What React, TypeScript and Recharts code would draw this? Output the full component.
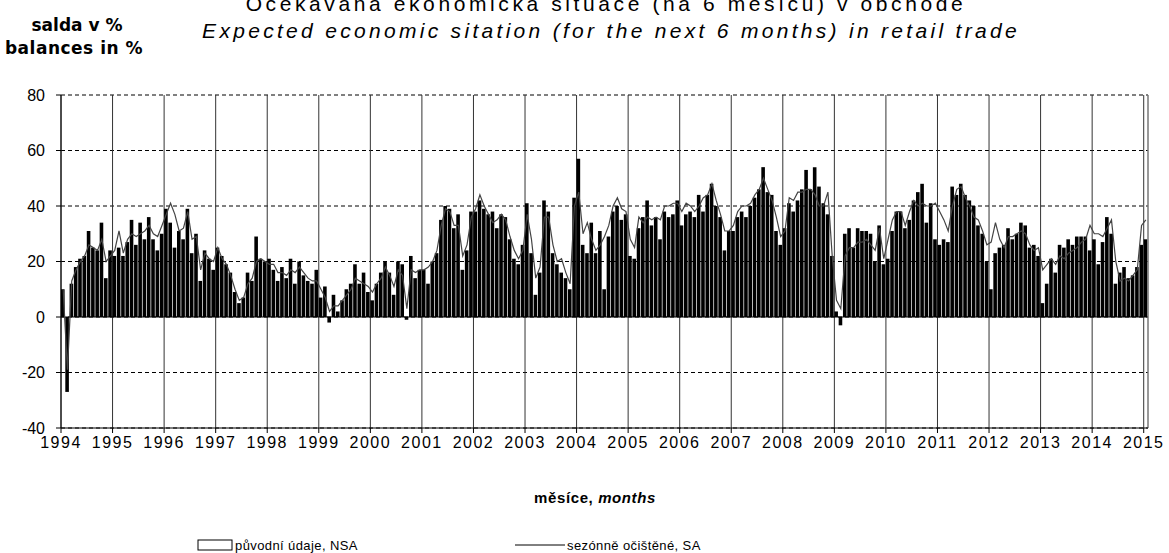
import React from "react";
import {
  ComposedChart,
  Bar,
  Line,
  XAxis,
  YAxis,
  CartesianGrid,
  ReferenceLine,
} from "recharts";

// year labels on the x axis (one tick per January)
const years = [
  1994, 1995, 1996, 1997, 1998, 1999, 2000, 2001, 2002, 2003, 2004,
  2005, 2006, 2007, 2008, 2009, 2010, 2011, 2012, 2013, 2014, 2015,
];

const yTicks = [-40, -20, 0, 20, 40, 60, 80];

// původní údaje, NSA (monthly, Jan 1994 .. Jan 2015)
const nsa = [
  10, -27, 12, 18, 21, 22, 31, 25, 24, 34, 14, 24, // 1994
  22, 25, 22, 27, 35, 26, 34, 28, 36, 28, 24, 30, // 1995
  39, 34, 25, 31, 28, 39, 23, 30, 13, 24, 21, 17, // 1996
  25, 22, 19, 16, 9, 5, 7, 16, 13, 29, 21, 20, // 1997
  21, 17, 13, 18, 14, 21, 12, 20, 15, 13, 12, 17, // 1998
  7, 11, -2, 8, 2, 6, 10, 12, 19, 12, 16, 9, // 1999
  6, 12, 16, 20, 16, 8, 20, 19, -1, 22, 14, 17, // 2000
  17, 12, 20, 23, 35, 40, 39, 32, 37, 17, 24, 38, // 2001
  38, 42, 39, 37, 38, 32, 37, 36, 28, 21, 19, 26, // 2002
  41, 23, 8, 16, 42, 38, 23, 19, 16, 14, 10, 43, // 2003
  57, 26, 23, 34, 23, 31, 10, 29, 38, 40, 35, 37, // 2004
  22, 21, 32, 36, 42, 33, 36, 28, 38, 36, 37, 42, // 2005
  33, 37, 38, 36, 44, 38, 44, 48, 40, 36, 24, 31, // 2006
  31, 36, 38, 36, 40, 43, 46, 54, 45, 44, 31, 26, // 2007
  32, 41, 38, 42, 46, 53, 46, 54, 47, 41, 37, 22, // 2008
  2, -3, 30, 32, 25, 32, 31, 31, 30, 20, 33, 19, // 2009
  21, 31, 38, 38, 32, 35, 42, 45, 48, 34, 41, 28, // 2010
  26, 28, 27, 47, 44, 48, 44, 42, 40, 33, 30, 20, // 2011
  10, 23, 25, 26, 32, 28, 30, 34, 33, 25, 26, 22, // 2012
  5, 12, 21, 16, 26, 25, 28, 26, 29, 29, 29, 24, // 2013
  28, 19, 27, 36, 30, 12, 16, 18, 14, 15, 18, 26, // 2014
  28, // 2015
];

// sezónně očištěné, SA
const sa = [
  10, -19, 13, 17, 20, 22, 26, 25, 24, 28, 20, 22, // 1994
  24, 31, 23, 28, 30, 29, 30, 31, 33, 30, 29, 33, // 1995
  37, 41, 37, 31, 32, 38, 28, 29, 17, 23, 21, 20, // 1996
  25, 21, 19, 15, 10, 6, 7, 12, 14, 20, 21, 20, // 1997
  19, 19, 16, 16, 15, 17, 16, 18, 16, 14, 13, 13, // 1998
  10, 7, 2, 4, 4, 6, 8, 10, 14, 13, 12, 11, // 1999
  9, 12, 14, 18, 15, 11, 17, 15, 3, 17, 16, 17, // 2000
  17, 18, 20, 24, 33, 39, 38, 33, 33, 22, 26, 36, // 2001
  39, 44, 40, 37, 34, 35, 37, 35, 29, 24, 21, 24, // 2002
  37, 28, 14, 18, 36, 36, 26, 20, 21, 16, 12, 40, // 2003
  45, 30, 34, 28, 24, 26, 29, 33, 40, 43, 39, 38, // 2004
  28, 25, 36, 34, 36, 35, 36, 35, 40, 40, 41, 41, // 2005
  38, 41, 40, 38, 40, 43, 44, 48, 42, 37, 31, 31, // 2006
  33, 38, 40, 40, 41, 44, 46, 50, 46, 42, 36, 29, // 2007
  31, 43, 42, 45, 45, 46, 46, 44, 40, 40, 45, 22, // 2008
  6, 3, 22, 25, 25, 27, 27, 28, 26, 24, 32, 21, // 2009
  28, 35, 38, 38, 33, 38, 42, 40, 41, 40, 40, 41, // 2010
  38, 35, 31, 40, 46, 47, 43, 40, 36, 35, 31, 26, // 2011
  27, 34, 28, 25, 29, 29, 30, 31, 30, 26, 24, 25, // 2012
  17, 19, 21, 19, 22, 21, 23, 24, 25, 27, 28, 33, // 2013
  30, 30, 29, 32, 35, 20, 13, 14, 13, 15, 17, 33, // 2014
  35, // 2015
];

const months = nsa.length;
const data = nsa.map((v, i) => ({
  x: i + 0.5,
  month: `${years[0] + Math.floor(i / 12)}-${String((i % 12) + 1).padStart(2, "0")}`,
  nsa: v,
  sa: sa[i],
}));
const xTicks = years.map((_, i) => i * 12);

const FONT = "'Liberation Sans', Arial, sans-serif";

export default function App() {
  return (
    <div
      style={{
        position: "absolute",
        left: 0,
        top: 0,
        width: 1169,
        height: 553,
        background: "#fff",
        overflow: "hidden",
        fontFamily: FONT,
      }}
    >
      <ComposedChart
        width={1169}
        height={553}
        data={data}
        margin={{ top: 95, right: 21, bottom: 95, left: 11 }}
      >
        <CartesianGrid
          vertical={false}
          stroke="#000"
          strokeDasharray="4 3"
        />
        <CartesianGrid horizontal={false} stroke="#333" />
        <XAxis
          type="number"
          dataKey="x"
          domain={[0, months]}
          ticks={xTicks}
          interval={0}
          tickFormatter={(v: number) => String(years[0] + v / 12)}
          tick={{ fill: "#000", fontSize: 16, fontFamily: FONT, letterSpacing: 1.5 }}
          axisLine={{ stroke: "#000" }}
          tickLine={{ stroke: "#000" }}
          tickSize={5}
          tickMargin={4}
          height={30}
        />
        <YAxis
          domain={[-40, 80]}
          ticks={yTicks}
          interval={0}
          tick={{ fill: "#000", fontSize: 16, fontFamily: FONT }}
          axisLine={{ stroke: "#000" }}
          tickLine={{ stroke: "#000" }}
          tickSize={5}
          tickMargin={11}
          width={50}
        />
        <ReferenceLine y={0} stroke="#000" />
        <ReferenceLine x={months} stroke="#999" />
        <Bar
          dataKey="nsa"
          name="původní údaje, NSA"
          fill="#000"
          barSize={3.6}
          isAnimationActive={false}
        />
        <Line
          dataKey="sa"
          name="sezónně očištěné, SA"
          type="linear"
          stroke="#444"
          strokeWidth={1.2}
          dot={false}
          isAnimationActive={false}
        />
      </ComposedChart>

      <svg
        width={1169}
        height={553}
        style={{ position: "absolute", left: 0, top: 0, pointerEvents: "none" }}
        fontFamily={FONT}
      >
        <text x={606} y={11} textAnchor="middle" fontSize={21} letterSpacing={3.6} fill="#000">
          Očekávaná ekonomická situace (na 6 měsíců) v obchodě
        </text>
        <text
          x={611}
          y={38}
          textAnchor="middle"
          fontSize={21}
          fontStyle="italic"
          letterSpacing={3.3}
          fill="#000"
        >
          Expected economic sitation (for the next 6 months) in retail trade
        </text>
        <text x={77} y={31} textAnchor="middle" fontSize={17} fontWeight="bold" fontFamily="'DejaVu Sans', sans-serif" fill="#000">
          salda v %
        </text>
        <text x={74} y={54} textAnchor="middle" fontSize={17} fontWeight="bold" fontFamily="'DejaVu Sans', sans-serif" letterSpacing={0.5} fill="#000">
          balances in %
        </text>
        <text x={595} y={503} textAnchor="middle" fontSize={15} fontWeight="bold" letterSpacing={0.6} fill="#000">
          měsíce, <tspan fontStyle="italic">months</tspan>
        </text>
        <rect x={198} y={540} width={34} height={10} fill="#fff" stroke="#000" />
        <text x={235} y={550} fontSize={13} letterSpacing={0.4} fill="#000">
          původní údaje, NSA
        </text>
        <line x1={515} x2={565} y1={545} y2={545} stroke="#000" />
        <text x={567} y={550} fontSize={13} letterSpacing={0.4} fill="#000">
          sezónně očištěné, SA
        </text>
      </svg>
    </div>
  );
}
